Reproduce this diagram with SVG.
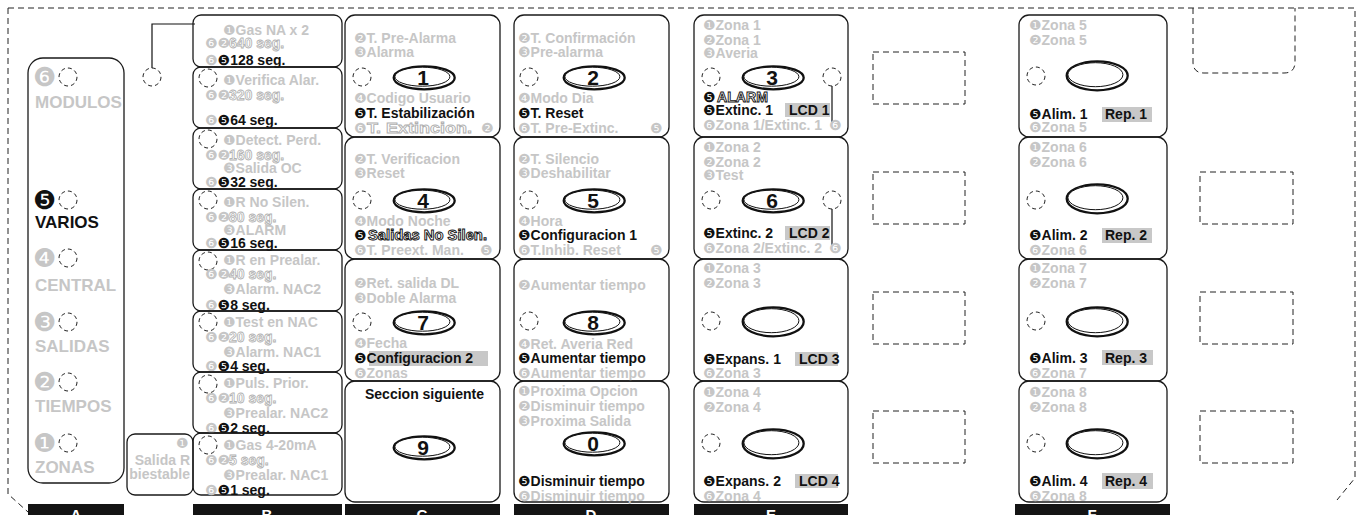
<svg xmlns="http://www.w3.org/2000/svg" xmlns:xlink="http://www.w3.org/1999/xlink" width="1362" height="515" viewBox="0 0 1362 515">
<style>
.bx{fill:none;stroke:#1a1a1a;stroke-width:1.3}
.dc{fill:none;stroke:#222;stroke-width:1;stroke-dasharray:4 3}
.dr{fill:none;stroke:#222;stroke-width:1;stroke-dasharray:6 4}
.t{font-family:"Liberation Sans",Arial,sans-serif;font-weight:bold;font-size:14px}
.tA{font-family:"Liberation Sans",Arial,sans-serif;font-weight:bold;font-size:17px}
.g{fill:#c6c6c6}
.k{fill:#111}
.n{font-family:"DejaVu Sans",sans-serif;font-weight:normal;font-size:14px}
.nA{font-family:"DejaVu Sans",sans-serif;font-weight:normal;font-size:26px}
.o{fill:#fff;stroke:#b0b0b0;stroke-width:0.8}
.ok{fill:#fff;stroke:#111;stroke-width:0.9}
.hl{fill:#c8c8c8}
.b1{fill:#fff;stroke:#111;stroke-width:1}
.b2{fill:#fff;stroke:#111;stroke-width:2.3}
.dg{font-family:"Liberation Sans",Arial,sans-serif;font-weight:bold;font-size:21px;text-anchor:middle;fill:#111}
.bar{fill:#141414}
.bl{font-family:"Liberation Sans",Arial,sans-serif;font-weight:bold;font-size:15px;text-anchor:middle;fill:#fff}
.ln{fill:none;stroke:#111;stroke-width:1.2}
</style>
<defs>
<g id="bt"><ellipse cx="1.2" cy="0.8" rx="30.5" ry="11.5" class="b2"/><ellipse cx="-0.6" cy="-0.3" rx="27.5" ry="9.5" class="b1"/></g>
<g id="be"><ellipse cx="1.2" cy="0.8" rx="30.5" ry="14.5" class="b2"/><ellipse cx="-0.6" cy="-0.3" rx="27.5" ry="12" class="b1"/></g>
<circle id="dc" r="9" class="dc"/>
</defs>

<g id="frame">
<path class="dr" d="M8,8 H1355 V478 L1337,500 M8,8 V494 L28,512"/>
<path class="dr" d="M1193,8 V62 Q1193,73 1204,73 H1284 Q1295,73 1295,62 V8"/>
<rect class="dr" x="873" y="52" width="92" height="52"/>
<rect class="dr" x="873" y="172" width="92" height="52"/>
<rect class="dr" x="873" y="292" width="92" height="52"/>
<rect class="dr" x="873" y="411" width="92" height="52"/>
<rect class="dr" x="1200" y="172" width="93" height="52"/>
<rect class="dr" x="1200" y="292" width="93" height="52"/>
<rect class="dr" x="1200" y="411" width="93" height="52"/>
</g>

<g id="connectors">
<polyline class="ln" points="152,68 152,24 195,24"/>
<line class="ln" x1="832" y1="86" x2="832" y2="122"/>
<line class="ln" x1="832" y1="209" x2="832" y2="245"/>
</g>

<g id="bars">
<rect class="bar" x="28" y="504" width="96" height="11"/><text class="bl" x="76" y="520">A</text>
<rect class="bar" x="193" y="504" width="149" height="11"/><text class="bl" x="267" y="520">B</text>
<rect class="bar" x="345" y="504" width="155" height="11"/><text class="bl" x="422" y="520">C</text>
<rect class="bar" x="514" y="504" width="155" height="11"/><text class="bl" x="591" y="520">D</text>
<rect class="bar" x="694" y="504" width="154" height="11"/><text class="bl" x="771" y="520">E</text>
<rect class="bar" x="1015" y="504" width="155" height="11"/><text class="bl" x="1092" y="520">F</text>
</g>

<g id="colA">
<rect class="bx" x="28" y="58" width="96" height="425" rx="15"/>
<text class="nA g" x="33" y="86">❻</text><use href="#dc" x="68" y="77"/><text class="tA g" x="35" y="108">MODULOS</text>
<text class="nA k" x="33" y="209">❺</text><use href="#dc" x="68" y="200"/><text class="tA k" x="35" y="228">VARIOS</text>
<text class="nA g" x="33" y="267">❹</text><use href="#dc" x="68" y="258"/><text class="tA g" x="35" y="291">CENTRAL</text>
<text class="nA g" x="33" y="331">❸</text><use href="#dc" x="68" y="322"/><text class="tA g" x="35" y="352">SALIDAS</text>
<text class="nA g" x="33" y="391">❷</text><use href="#dc" x="68" y="382"/><text class="tA g" x="35" y="412">TIEMPOS</text>
<text class="nA g" x="33" y="452">❶</text><use href="#dc" x="68" y="443"/><text class="tA g" x="35" y="473">ZONAS</text>
</g>
<g id="sel-out"><use href="#dc" x="152" y="77"/></g>

<g id="salidaR">
<rect class="bx" x="127" y="434" width="66" height="61" rx="8"/>
<text class="n g" x="176" y="448">❶</text>
<text class="t g" x="190" y="465" text-anchor="end">Salida R</text>
<text class="t g" x="190" y="479" text-anchor="end">biestable</text>
</g>

<g id="B1"><rect class="bx" x="193" y="15" width="149" height="52" rx="8"/>
<text class="t g" x="223" y="35"><tspan class="n">❶</tspan>Gas NA x 2</text>
<text class="n g" x="205" y="48">❻❷</text><text class="t o" x="229" y="48">640 seg.</text>
<text class="t k" x="205" y="65"><tspan class="n g">❻</tspan><tspan class="n">❺</tspan>128 seg.</text></g>

<g id="B2"><rect class="bx" x="193" y="67" width="149" height="61" rx="8"/><use href="#dc" x="208" y="78"/>
<text class="t g" x="223" y="85"><tspan class="n">❶</tspan>Verifica Alar.</text>
<text class="n g" x="205" y="100">❻❷</text><text class="t o" x="229" y="100">320 seg.</text>
<text class="t k" x="205" y="125"><tspan class="n g">❻</tspan><tspan class="n">❺</tspan>64 seg.</text></g>

<g id="B3"><rect class="bx" x="193" y="128" width="149" height="61" rx="8"/><use href="#dc" x="208" y="139"/>
<text class="t g" x="223" y="145"><tspan class="n">❶</tspan>Detect. Perd.</text>
<text class="n g" x="205" y="160">❻❷</text><text class="t o" x="229" y="160">160 seg.</text>
<text class="t g" x="223" y="173"><tspan class="n">❸</tspan>Salida OC</text>
<text class="t k" x="205" y="187"><tspan class="n g">❻</tspan><tspan class="n">❺</tspan>32 seg.</text></g>

<g id="B4"><rect class="bx" x="193" y="189" width="149" height="61" rx="8"/><use href="#dc" x="208" y="200"/>
<text class="t g" x="223" y="207"><tspan class="n">❶</tspan>R No Silen.</text>
<text class="n g" x="205" y="222">❻❷</text><text class="t o" x="229" y="222">80 seg.</text>
<text class="t g" x="223" y="235"><tspan class="n">❸</tspan>ALARM</text>
<text class="t k" x="205" y="248"><tspan class="n g">❻</tspan><tspan class="n">❺</tspan>16 seg.</text></g>

<g id="B5"><rect class="bx" x="193" y="250" width="149" height="61" rx="8"/><use href="#dc" x="208" y="261"/>
<text class="t g" x="223" y="265"><tspan class="n">❶</tspan>R en Prealar.</text>
<text class="n g" x="205" y="279">❻❷</text><text class="t o" x="229" y="279">40 seg.</text>
<text class="t g" x="223" y="294"><tspan class="n">❸</tspan>Alarm. NAC2</text>
<text class="t k" x="205" y="310"><tspan class="n g">❻</tspan><tspan class="n">❺</tspan>8 seg.</text></g>

<g id="B6"><rect class="bx" x="193" y="311" width="149" height="61" rx="8"/><use href="#dc" x="208" y="322"/>
<text class="t g" x="223" y="327"><tspan class="n">❶</tspan>Test en NAC</text>
<text class="n g" x="205" y="342">❻❷</text><text class="t o" x="229" y="342">20 seg.</text>
<text class="t g" x="223" y="357"><tspan class="n">❸</tspan>Alarm. NAC1</text>
<text class="t k" x="205" y="371"><tspan class="n g">❻</tspan><tspan class="n">❺</tspan>4 seg.</text></g>

<g id="B7"><rect class="bx" x="193" y="372" width="149" height="61" rx="8"/><use href="#dc" x="208" y="384"/>
<text class="t g" x="223" y="388"><tspan class="n">❶</tspan>Puls. Prior.</text>
<text class="n g" x="205" y="403">❻❷</text><text class="t o" x="229" y="403">10 seg.</text>
<text class="t g" x="223" y="418"><tspan class="n">❸</tspan>Prealar. NAC2</text>
<text class="t k" x="205" y="433"><tspan class="n g">❻</tspan><tspan class="n">❺</tspan>2 seg.</text></g>

<g id="B8"><rect class="bx" x="193" y="433" width="149" height="62" rx="8"/><use href="#dc" x="208" y="445"/>
<text class="t g" x="223" y="450"><tspan class="n">❶</tspan>Gas 4-20mA</text>
<text class="n g" x="205" y="465">❻❷</text><text class="t o" x="229" y="465">5 seg.</text>
<text class="t g" x="223" y="480"><tspan class="n">❸</tspan>Prealar. NAC1</text>
<text class="t k" x="205" y="495"><tspan class="n g">❻</tspan><tspan class="n">❺</tspan>1 seg.</text></g>

<g id="C1"><rect class="bx" x="345" y="15" width="155" height="122" rx="10"/>
<text class="t g" x="354" y="43"><tspan class="n">❷</tspan>T. Pre-Alarma</text>
<text class="t g" x="354" y="57"><tspan class="n">❸</tspan>Alarma</text>
<use href="#dc" x="362" y="77"/><use href="#bt" x="423" y="77"/><text class="dg" x="423" y="84.5">1</text>
<text class="t g" x="354" y="103"><tspan class="n">❹</tspan>Codigo Usuario</text>
<text class="t k" x="354" y="118"><tspan class="n">❺</tspan>T. Estabilización</text>
<text class="n g" x="354" y="133">❻</text><text class="t o" x="367" y="133" textLength="105" lengthAdjust="spacingAndGlyphs">T. Extincion.</text><text class="n g" x="481" y="133">❷</text></g>

<g id="C2"><rect class="bx" x="345" y="137" width="155" height="122" rx="10"/>
<text class="t g" x="354" y="164"><tspan class="n">❷</tspan>T. Verificacion</text>
<text class="t g" x="354" y="178"><tspan class="n">❸</tspan>Reset</text>
<use href="#dc" x="362" y="200"/><use href="#bt" x="423" y="200"/><text class="dg" x="423" y="207.5">4</text>
<text class="t g" x="354" y="226"><tspan class="n">❹</tspan>Modo Noche</text>
<text class="n k" x="354" y="240">❺</text><text class="t ok" x="368" y="240" textLength="119" lengthAdjust="spacingAndGlyphs">Salidas No Silen.</text>
<text class="t g" x="354" y="255"><tspan class="n">❻</tspan>T. Preext. Man.</text><text class="n g" x="480" y="255">❺</text></g>

<g id="C3"><rect class="bx" x="345" y="259" width="155" height="122" rx="10"/>
<text class="t g" x="354" y="288"><tspan class="n">❷</tspan>Ret. salida DL</text>
<text class="t g" x="354" y="303"><tspan class="n">❸</tspan>Doble Alarma</text>
<use href="#dc" x="362" y="322"/><use href="#bt" x="423" y="322"/><text class="dg" x="423" y="329.5">7</text>
<text class="t g" x="354" y="348"><tspan class="n">❹</tspan>Fecha</text>
<rect class="hl" x="369" y="351" width="119" height="15"/>
<text class="t k" x="354" y="363"><tspan class="n">❺</tspan>Configuracion 2</text>
<text class="t g" x="354" y="378"><tspan class="n">❻</tspan>Zonas</text></g>

<g id="C4"><rect class="bx" x="345" y="381" width="155" height="121" rx="10"/>
<text class="t k" x="365" y="399">Seccion siguiente</text>
<use href="#bt" x="423" y="447"/><text class="dg" x="423" y="454.5">9</text></g>

<g id="D1"><rect class="bx" x="514" y="15" width="155" height="122" rx="10"/>
<text class="t g" x="518" y="43"><tspan class="n">❷</tspan>T. Confirmación</text>
<text class="t g" x="518" y="57"><tspan class="n">❸</tspan>Pre-alarma</text>
<use href="#dc" x="529" y="77"/><use href="#bt" x="593" y="77"/><text class="dg" x="593" y="84.5">2</text>
<text class="t g" x="518" y="103"><tspan class="n">❹</tspan>Modo Dia</text>
<text class="t k" x="518" y="118"><tspan class="n">❺</tspan>T. Reset</text>
<text class="t g" x="518" y="133"><tspan class="n">❻</tspan>T. Pre-Extinc.</text><text class="n g" x="650" y="133">❺</text></g>

<g id="D2"><rect class="bx" x="514" y="137" width="155" height="122" rx="10"/>
<text class="t g" x="518" y="164"><tspan class="n">❷</tspan>T. Silencio</text>
<text class="t g" x="518" y="178"><tspan class="n">❸</tspan>Deshabilitar</text>
<use href="#dc" x="529" y="200"/><use href="#bt" x="593" y="200"/><text class="dg" x="593" y="207.5">5</text>
<text class="t g" x="518" y="226"><tspan class="n">❹</tspan>Hora</text>
<text class="t k" x="518" y="240"><tspan class="n">❺</tspan>Configuracion 1</text>
<text class="t g" x="518" y="255"><tspan class="n">❻</tspan>T.Inhib. Reset</text><text class="n g" x="650" y="255">❺</text></g>

<g id="D3"><rect class="bx" x="514" y="259" width="155" height="122" rx="10"/>
<text class="t g" x="518" y="290"><tspan class="n">❷</tspan>Aumentar tiempo</text>
<use href="#dc" x="529" y="321"/><use href="#bt" x="593" y="322"/><text class="dg" x="593" y="329.5">8</text>
<text class="t g" x="518" y="349"><tspan class="n">❹</tspan>Ret. Averia Red</text>
<text class="t k" x="518" y="363"><tspan class="n">❺</tspan>Aumentar tiempo</text>
<text class="t g" x="518" y="378"><tspan class="n">❻</tspan>Aumentar tiempo</text></g>

<g id="D4"><rect class="bx" x="514" y="381" width="155" height="121" rx="10"/>
<text class="t g" x="518" y="396"><tspan class="n">❶</tspan>Proxima Opcion</text>
<text class="t g" x="518" y="411"><tspan class="n">❷</tspan>Disminuir tiempo</text>
<text class="t g" x="518" y="426"><tspan class="n">❸</tspan>Proxima Salida</text>
<use href="#bt" x="593" y="443"/><text class="dg" x="593" y="450.5">0</text>
<text class="t k" x="518" y="486"><tspan class="n">❺</tspan>Disminuir tiempo</text>
<text class="t g" x="518" y="501"><tspan class="n">❻</tspan>Disminuir tiempo</text></g>

<g id="E1"><rect class="bx" x="694" y="15" width="154" height="122" rx="10"/>
<text class="t g" x="703" y="30"><tspan class="n">❶</tspan>Zona 1</text>
<text class="t g" x="703" y="45"><tspan class="n">❷</tspan>Zona 1</text>
<text class="t g" x="703" y="58"><tspan class="n">❸</tspan>Averia</text>
<use href="#dc" x="711" y="77"/><use href="#dc" x="832" y="77"/><use href="#bt" x="772" y="77"/><text class="dg" x="772" y="84.5">3</text>
<text class="n k" x="703" y="102">❺</text><text class="t ok" x="717" y="102" textLength="51" lengthAdjust="spacingAndGlyphs">ALARM</text>
<rect class="hl" x="785" y="103" width="45" height="14"/>
<text class="t k" x="703" y="115"><tspan class="n">❺</tspan>Extinc. 1<tspan x="789">LCD 1</tspan></text>
<text class="t g" x="703" y="130"><tspan class="n">❻</tspan>Zona 1/Extinc. 1</text><text class="n g" x="829" y="130">❻</text></g>

<g id="E2"><rect class="bx" x="694" y="137" width="154" height="122" rx="10"/>
<text class="t g" x="703" y="152"><tspan class="n">❶</tspan>Zona 2</text>
<text class="t g" x="703" y="167"><tspan class="n">❷</tspan>Zona 2</text>
<text class="t g" x="703" y="180"><tspan class="n">❸</tspan>Test</text>
<use href="#dc" x="711" y="200"/><use href="#dc" x="832" y="200"/><use href="#bt" x="772" y="200"/><text class="dg" x="772" y="207.5">6</text>
<rect class="hl" x="785" y="226" width="45" height="14"/>
<text class="t k" x="703" y="238"><tspan class="n">❺</tspan>Extinc. 2<tspan x="789">LCD 2</tspan></text>
<text class="t g" x="703" y="253"><tspan class="n">❻</tspan>Zona 2/Extinc. 2</text><text class="n g" x="829" y="253">❻</text></g>

<g id="E3"><rect class="bx" x="694" y="259" width="154" height="122" rx="10"/>
<text class="t g" x="703" y="273"><tspan class="n">❶</tspan>Zona 3</text>
<text class="t g" x="703" y="288"><tspan class="n">❷</tspan>Zona 3</text>
<use href="#dc" x="711" y="321"/><use href="#be" x="772" y="321"/>
<rect class="hl" x="795" y="352" width="43" height="14"/>
<text class="t k" x="703" y="364"><tspan class="n">❺</tspan>Expans. 1<tspan x="799">LCD 3</tspan></text>
<text class="t g" x="703" y="378"><tspan class="n">❻</tspan>Zona 3</text></g>

<g id="E4"><rect class="bx" x="694" y="381" width="154" height="121" rx="10"/>
<text class="t g" x="703" y="397"><tspan class="n">❶</tspan>Zona 4</text>
<text class="t g" x="703" y="412"><tspan class="n">❷</tspan>Zona 4</text>
<use href="#dc" x="711" y="443"/><use href="#be" x="772" y="443"/>
<rect class="hl" x="795" y="474" width="43" height="14"/>
<text class="t k" x="703" y="486"><tspan class="n">❺</tspan>Expans. 2<tspan x="799">LCD 4</tspan></text>
<text class="t g" x="703" y="501"><tspan class="n">❻</tspan>Zona 4</text></g>

<g id="F1"><rect class="bx" x="1019" y="15" width="148" height="122" rx="10"/>
<text class="t g" x="1029" y="30"><tspan class="n">❶</tspan>Zona 5</text>
<text class="t g" x="1029" y="45"><tspan class="n">❷</tspan>Zona 5</text>
<use href="#dc" x="1036" y="76"/><use href="#be" x="1096" y="75"/>
<rect class="hl" x="1102" y="107" width="50" height="15"/>
<text class="t k" x="1029" y="119"><tspan class="n">❺</tspan>Alim. 1<tspan x="1105">Rep. 1</tspan></text>
<text class="t g" x="1029" y="132"><tspan class="n">❻</tspan>Zona 5</text></g>

<g id="F2"><rect class="bx" x="1019" y="137" width="148" height="122" rx="10"/>
<text class="t g" x="1029" y="152"><tspan class="n">❶</tspan>Zona 6</text>
<text class="t g" x="1029" y="167"><tspan class="n">❷</tspan>Zona 6</text>
<use href="#dc" x="1036" y="200"/><use href="#be" x="1096" y="198"/>
<rect class="hl" x="1102" y="228" width="50" height="15"/>
<text class="t k" x="1029" y="240"><tspan class="n">❺</tspan>Alim. 2<tspan x="1105">Rep. 2</tspan></text>
<text class="t g" x="1029" y="255"><tspan class="n">❻</tspan>Zona 6</text></g>

<g id="F3"><rect class="bx" x="1019" y="259" width="148" height="122" rx="10"/>
<text class="t g" x="1029" y="273"><tspan class="n">❶</tspan>Zona 7</text>
<text class="t g" x="1029" y="288"><tspan class="n">❷</tspan>Zona 7</text>
<use href="#dc" x="1036" y="321"/><use href="#be" x="1096" y="321"/>
<rect class="hl" x="1102" y="350" width="51" height="15"/>
<text class="t k" x="1029" y="363"><tspan class="n">❺</tspan>Alim. 3<tspan x="1105">Rep. 3</tspan></text>
<text class="t g" x="1029" y="378"><tspan class="n">❻</tspan>Zona 7</text></g>

<g id="F4"><rect class="bx" x="1019" y="381" width="148" height="121" rx="10"/>
<text class="t g" x="1029" y="397"><tspan class="n">❶</tspan>Zona 8</text>
<text class="t g" x="1029" y="412"><tspan class="n">❷</tspan>Zona 8</text>
<use href="#dc" x="1036" y="443"/><use href="#be" x="1096" y="443"/>
<rect class="hl" x="1102" y="473" width="51" height="16"/>
<text class="t k" x="1029" y="486"><tspan class="n">❺</tspan>Alim. 4<tspan x="1105">Rep. 4</tspan></text>
<text class="t g" x="1029" y="501"><tspan class="n">❻</tspan>Zona 8</text></g>
</svg>
